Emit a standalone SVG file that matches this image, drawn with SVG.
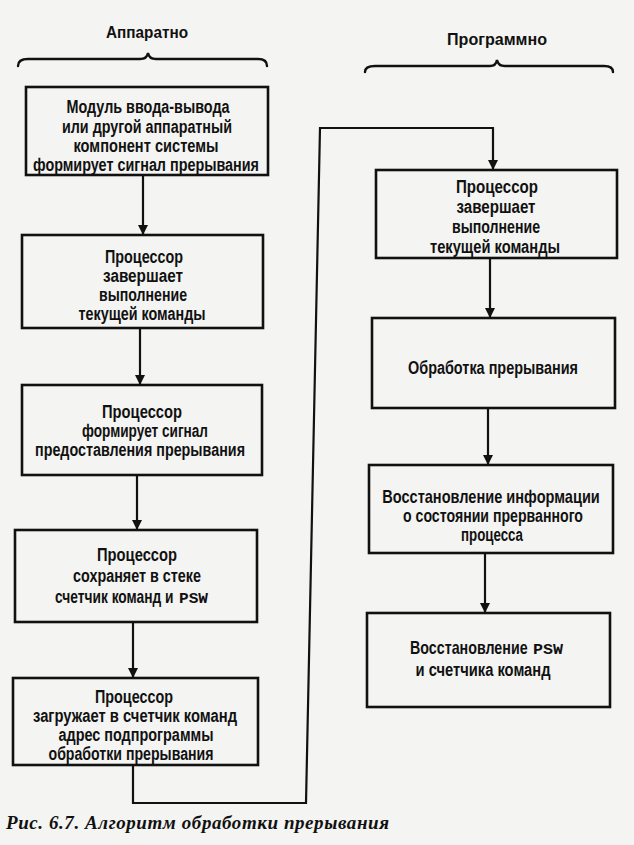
<svg xmlns="http://www.w3.org/2000/svg" width="634" height="845" viewBox="0 0 634 845">
<style>
.bg{fill:#f4f4f2}
.box{fill:none;stroke:#111;stroke-width:2.6}
.t{font-family:"Liberation Sans",Arial,sans-serif;font-size:17.5px;font-weight:bold;fill:#111;text-anchor:middle}
.s{text-anchor:start}
.h{font-family:"Liberation Sans",Arial,sans-serif;font-size:16.5px;font-weight:bold;fill:#111;text-anchor:middle}
.m{font-family:"Liberation Mono","Courier New",monospace;font-size:15px;font-weight:bold;fill:#111}
.cap{font-family:"Liberation Serif","Times New Roman",serif;font-size:19px;font-weight:bold;font-style:italic;fill:#111}
.c{fill:none;stroke:#111;stroke-width:2.2}
.br{fill:none;stroke:#111;stroke-width:2.4;stroke-linecap:round}
</style>
<defs>
<marker id="ah" viewBox="0 0 10 10" refX="10" refY="5" markerWidth="10" markerHeight="12" markerUnits="userSpaceOnUse" orient="auto">
<path d="M0,0 L10,5 L0,10 Z" fill="#111"/>
</marker>
</defs>
<rect class="bg" x="0" y="0" width="634" height="845"/>

<g id="header-hw">
<text class="h" x="147" y="38" textLength="82" lengthAdjust="spacingAndGlyphs">Аппаратно</text>
<path class="br" d="M18,66 Q18,59 28,59 L140,59 Q147,59 148,53 Q149,59 156,59 L258,59 Q267,59 267,66"/>
</g>
<g id="header-sw">
<text class="h" x="497" y="45" textLength="100" lengthAdjust="spacingAndGlyphs">Программно</text>
<path class="br" d="M365,72 Q365,66 375,66 L490,66 Q496,66 497,60 Q498,66 505,66 L604,66 Q613,66 613,72"/>
</g>

<g id="connectors">
<line class="c" x1="143" y1="175" x2="143" y2="235" marker-end="url(#ah)"/>
<line class="c" x1="140" y1="328" x2="140" y2="385" marker-end="url(#ah)"/>
<line class="c" x1="137" y1="475" x2="137" y2="530" marker-end="url(#ah)"/>
<line class="c" x1="133" y1="622" x2="133" y2="678" marker-end="url(#ah)"/>
<polyline class="c" points="133,765 133,803 306,803 320,128 493,128 493,170" marker-end="url(#ah)"/>
<line class="c" x1="490" y1="258" x2="490" y2="318" marker-end="url(#ah)"/>
<line class="c" x1="488" y1="408" x2="488" y2="465" marker-end="url(#ah)"/>
<line class="c" x1="485" y1="553" x2="485" y2="613" marker-end="url(#ah)"/>
</g>

<g id="n1">
<rect class="box" x="26" y="87" width="242" height="88"/>
<text class="t" x="148" y="113" textLength="163" lengthAdjust="spacingAndGlyphs">Модуль ввода-вывода</text>
<text class="t" x="147" y="133" textLength="170" lengthAdjust="spacingAndGlyphs">или другой аппаратный</text>
<text class="t" x="146" y="152" textLength="145" lengthAdjust="spacingAndGlyphs">компонент системы</text>
<text class="t" x="146" y="171" textLength="226" lengthAdjust="spacingAndGlyphs">формирует сигнал прерывания</text>
</g>
<g id="n2">
<rect class="box" x="22" y="235" width="241" height="93"/>
<text class="t" x="144" y="263" textLength="78" lengthAdjust="spacingAndGlyphs">Процессор</text>
<text class="t" x="143" y="282" textLength="80" lengthAdjust="spacingAndGlyphs">завершает</text>
<text class="t" x="143" y="301" textLength="88" lengthAdjust="spacingAndGlyphs">выполнение</text>
<text class="t" x="142" y="320" textLength="127" lengthAdjust="spacingAndGlyphs">текущей команды</text>
</g>
<g id="n3">
<rect class="box" x="22" y="385" width="240" height="90"/>
<text class="t" x="142" y="418" textLength="80" lengthAdjust="spacingAndGlyphs">Процессор</text>
<text class="t" x="145" y="437" textLength="126" lengthAdjust="spacingAndGlyphs">формирует сигнал</text>
<text class="t" x="140" y="456" textLength="210" lengthAdjust="spacingAndGlyphs">предоставления прерывания</text>
</g>
<g id="n4">
<rect class="box" x="15" y="530" width="242" height="92"/>
<text class="t" x="137" y="561" textLength="80" lengthAdjust="spacingAndGlyphs">Процессор</text>
<text class="t" x="137" y="582" textLength="128" lengthAdjust="spacingAndGlyphs">сохраняет в стеке</text>
<text class="t s" transform="translate(55,603) scale(0.78,1)" x="0" y="0" textLength="152" lengthAdjust="spacingAndGlyphs">счетчик команд и</text>
<text class="m" x="179" y="603" textLength="29" lengthAdjust="spacingAndGlyphs">PSW</text>
</g>
<g id="n5">
<rect class="box" x="13" y="678" width="245" height="87"/>
<text class="t" x="134" y="703" textLength="78" lengthAdjust="spacingAndGlyphs">Процессор</text>
<text class="t" x="135" y="722" textLength="204" lengthAdjust="spacingAndGlyphs">загружает в счетчик команд</text>
<text class="t" x="136" y="741" textLength="155" lengthAdjust="spacingAndGlyphs">адрес подпрограммы</text>
<text class="t" x="131" y="760" textLength="165" lengthAdjust="spacingAndGlyphs">обработки прерывания</text>
</g>

<g id="n6">
<rect class="box" x="376" y="170" width="241" height="88"/>
<text class="t" x="497" y="193" textLength="82" lengthAdjust="spacingAndGlyphs">Процессор</text>
<text class="t" x="496" y="213" textLength="79" lengthAdjust="spacingAndGlyphs">завершает</text>
<text class="t" x="496" y="233" textLength="88" lengthAdjust="spacingAndGlyphs">выполнение</text>
<text class="t" x="495" y="253" textLength="130" lengthAdjust="spacingAndGlyphs">текущей команды</text>
</g>
<g id="n7">
<rect class="box" x="372" y="318" width="243" height="90"/>
<text class="t" x="493" y="374" textLength="170" lengthAdjust="spacingAndGlyphs">Обработка прерывания</text>
</g>
<g id="n8">
<rect class="box" x="369" y="465" width="244" height="88"/>
<text class="t" transform="translate(491,503) scale(0.8,1)" x="0" y="0" textLength="272" lengthAdjust="spacingAndGlyphs">Восстановление информации</text>
<text class="t" x="493" y="522" textLength="180" lengthAdjust="spacingAndGlyphs">о состоянии прерванного</text>
<text class="t" x="492" y="541" textLength="62" lengthAdjust="spacingAndGlyphs">процесса</text>
</g>
<g id="n9">
<rect class="box" x="367" y="613" width="243" height="94"/>
<text class="t s" transform="translate(410,654) scale(0.8,1)" x="0" y="0" textLength="147" lengthAdjust="spacingAndGlyphs">Восстановление</text>
<text class="m" x="533" y="654" textLength="30" lengthAdjust="spacingAndGlyphs">PSW</text>
<text class="t" x="483" y="676" textLength="135" lengthAdjust="spacingAndGlyphs">и счетчика команд</text>
</g>

<text class="cap" x="6" y="829" textLength="383" lengthAdjust="spacing">Рис. 6.7. Алгоритм обработки прерывания</text>
</svg>
